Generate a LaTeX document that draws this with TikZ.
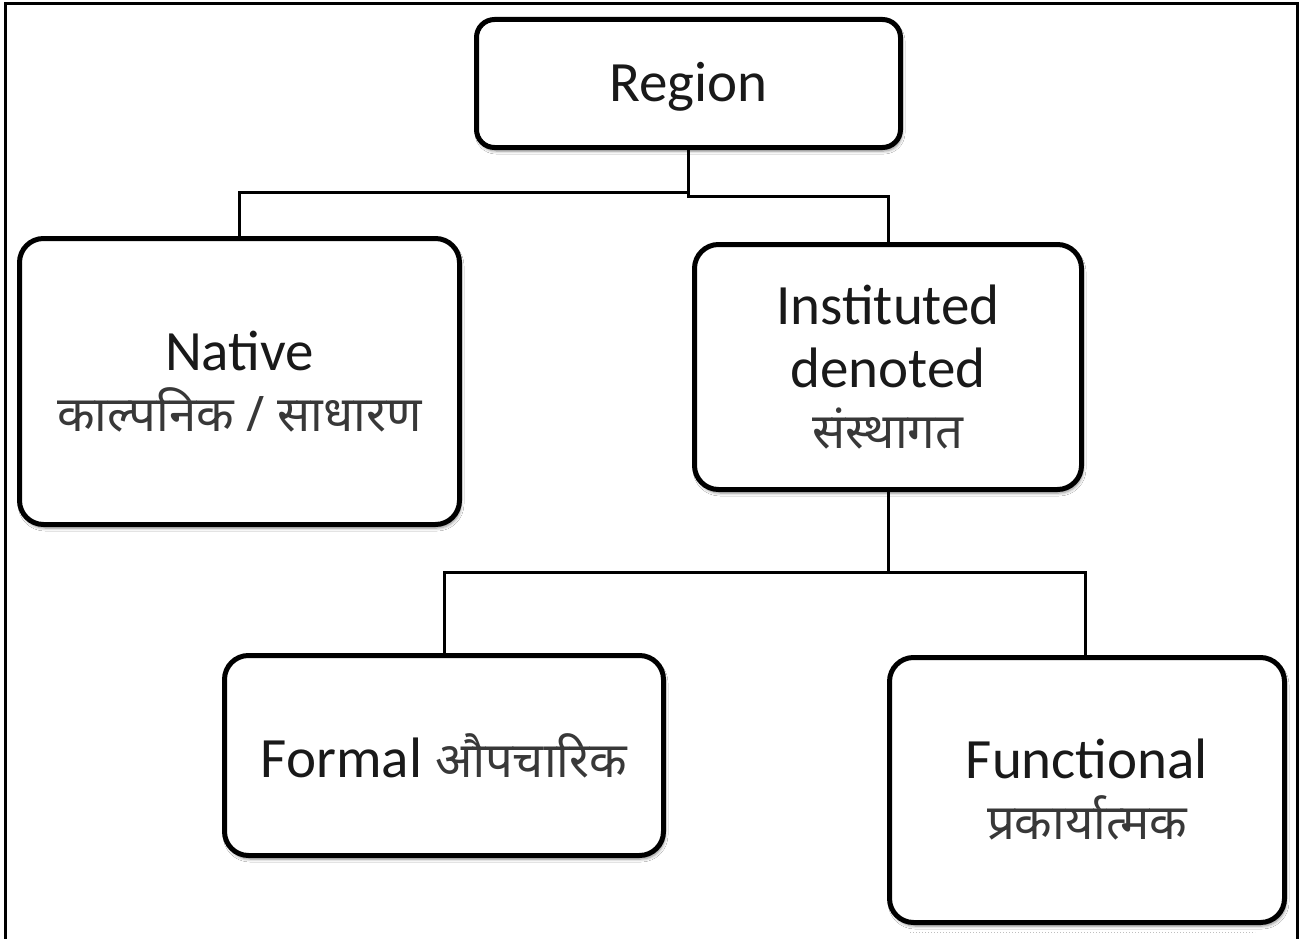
\documentclass[tikz,border=0pt]{standalone}
\usepackage{fontspec}
\setmainfont{Carlito}
\newfontfamily\deva[Script=Devanagari]{Noto Sans}
\usetikzlibrary{shadows.blur}
\tikzset{
  box/.style={draw=black, line width=5pt, rounded corners=24pt, fill=white,
    align=center, inner sep=0pt, text=black!90,
    font=\fontsize{57}{63}\selectfont,
    blur shadow={shadow xshift=1.5pt, shadow yshift=-3.5pt, shadow blur radius=3pt, shadow opacity=45, shadow blur steps=6}},
  link/.style={draw=black, line width=3pt},
  frame/.style={draw=black, line width=3pt}
}
\newcommand{\dv}[1]{{\deva\fontsize{49}{57}\selectfont\color{black!78}#1}}
\begin{document}
\begin{tikzpicture}[x=1pt,y=-1pt]
\useasboundingbox (0,0) rectangle (1303,939);
\fill[white] (0,0) rectangle (1303,939);
\draw[frame] (5,945) -- (5,4) -- (1297,4) -- (1297,945);
\draw[black!25, line width=1pt, dotted] (910,932) -- (1255,932);

\node[box, rounded corners=18pt, minimum width=424pt, minimum height=128pt, text depth=4pt] (region) at (688.5,83.5) {Region};
\node[box, minimum width=440pt, minimum height=286pt] (native) at (239.5,381.5) {Native\\[-2pt]\dv{काल्पनिक / साधारण}};
\node[box, minimum width=387pt, minimum height=245pt] (inst) at (888,367) {Instituted\\denoted\\[-2pt]\dv{संस्थागत}};
\node[box, minimum width=439pt, minimum height=200pt] (formal) at (444,755.5) {Formal \dv{औपचारिक}};
\node[box, minimum width=395pt, minimum height=265pt] (func) at (1087,790) {Functional\\[-2pt]\dv{प्रकार्यात्मक}};

\coordinate (j1) at (688.5,192);
\coordinate (j2) at (688.5,196);
\coordinate (j3) at (888,572);
\draw[link] (region.south) -- (j1) -| (native.north);
\draw[link] (j1) -- (j2) -| (inst.north);
\draw[link] (inst.south) -- (j3) -| (formal.north);
\draw[link] (j3) -| ([xshift=-2pt]func.north);
\end{tikzpicture}
\end{document}
